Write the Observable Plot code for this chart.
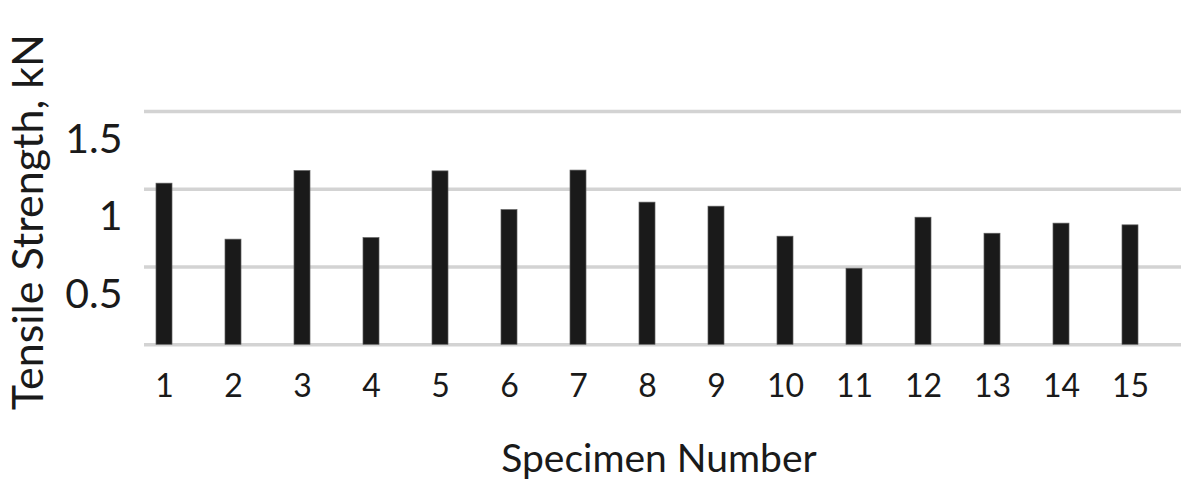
<!DOCTYPE html>
<html><head><meta charset="utf-8">
<script src="https://cdn.jsdelivr.net/npm/d3@7"></script>
<script src="https://cdn.jsdelivr.net/npm/@observablehq/plot@0.6"></script>
<style>
html,body{margin:0;padding:0;background:#fff;}
#chart svg{display:block;font-family:Lato,sans-serif;}
</style></head><body><div id="chart"></div>
<script>
const specimens = [1, 2, 3, 4, 5, 6, 7, 8, 9, 10, 11, 12, 13, 14, 15];
const strength = [1.036, 0.676, 1.117, 0.686, 1.115, 0.866, 1.12, 0.914, 0.888, 0.695, 0.489, 0.817, 0.714, 0.779, 0.768];
const yTicks = [0.5, 1, 1.5];
const gridValues = [0, 0.5, 1, 1.5];
const xTitle = "Specimen Number";
const yTitle = "Tensile Strength, kN";

const data = specimens.map((s, i) => ({specimen: s, strength: strength[i]}));

const chart = Plot.plot({
  width: 1181,
  height: 486,
  marginTop: 111,
  marginBottom: 141.7,
  marginLeft: 144,
  marginRight: 0,
  style: {fontFamily: "Lato, sans-serif", color: "#1a1a1a", background: "#fff"},
  x: {type: "band", domain: specimens, range: [128.4, 1165.5], paddingInner: 0.77, paddingOuter: 0.385},
  y: {domain: [0, 1.5]},
  marks: [
    Plot.ruleY(gridValues, {stroke: "#d3d3d3", strokeWidth: 3.5}),
    Plot.barY(data, {x: "specimen", y: "strength", fill: "#1a1a1a", stroke: "#5e5e5e", strokeWidth: 0.7}),
    Plot.axisX({tickSize: 0, tickPadding: 29, fontSize: 32, label: null, fill: "#1a1a1a"}),
    Plot.axisY(yTicks, {tickSize: 0, tickPadding: 22, fontSize: 41, dy: 28, label: null, fill: "#1a1a1a", tickFormat: d => String(d)}),
    Plot.text([yTitle], {frameAnchor: "left", textAnchor: "middle", lineAnchor: "middle", dx: -115, dy: -6, rotate: -90, fontSize: 43, fill: "#1a1a1a"}),
    Plot.text([xTitle], {frameAnchor: "bottom", textAnchor: "middle", dx: -4, dy: 127, fontSize: 39, fill: "#1a1a1a"})
  ]
});
document.getElementById("chart").appendChild(chart);
</script>
</body></html>
